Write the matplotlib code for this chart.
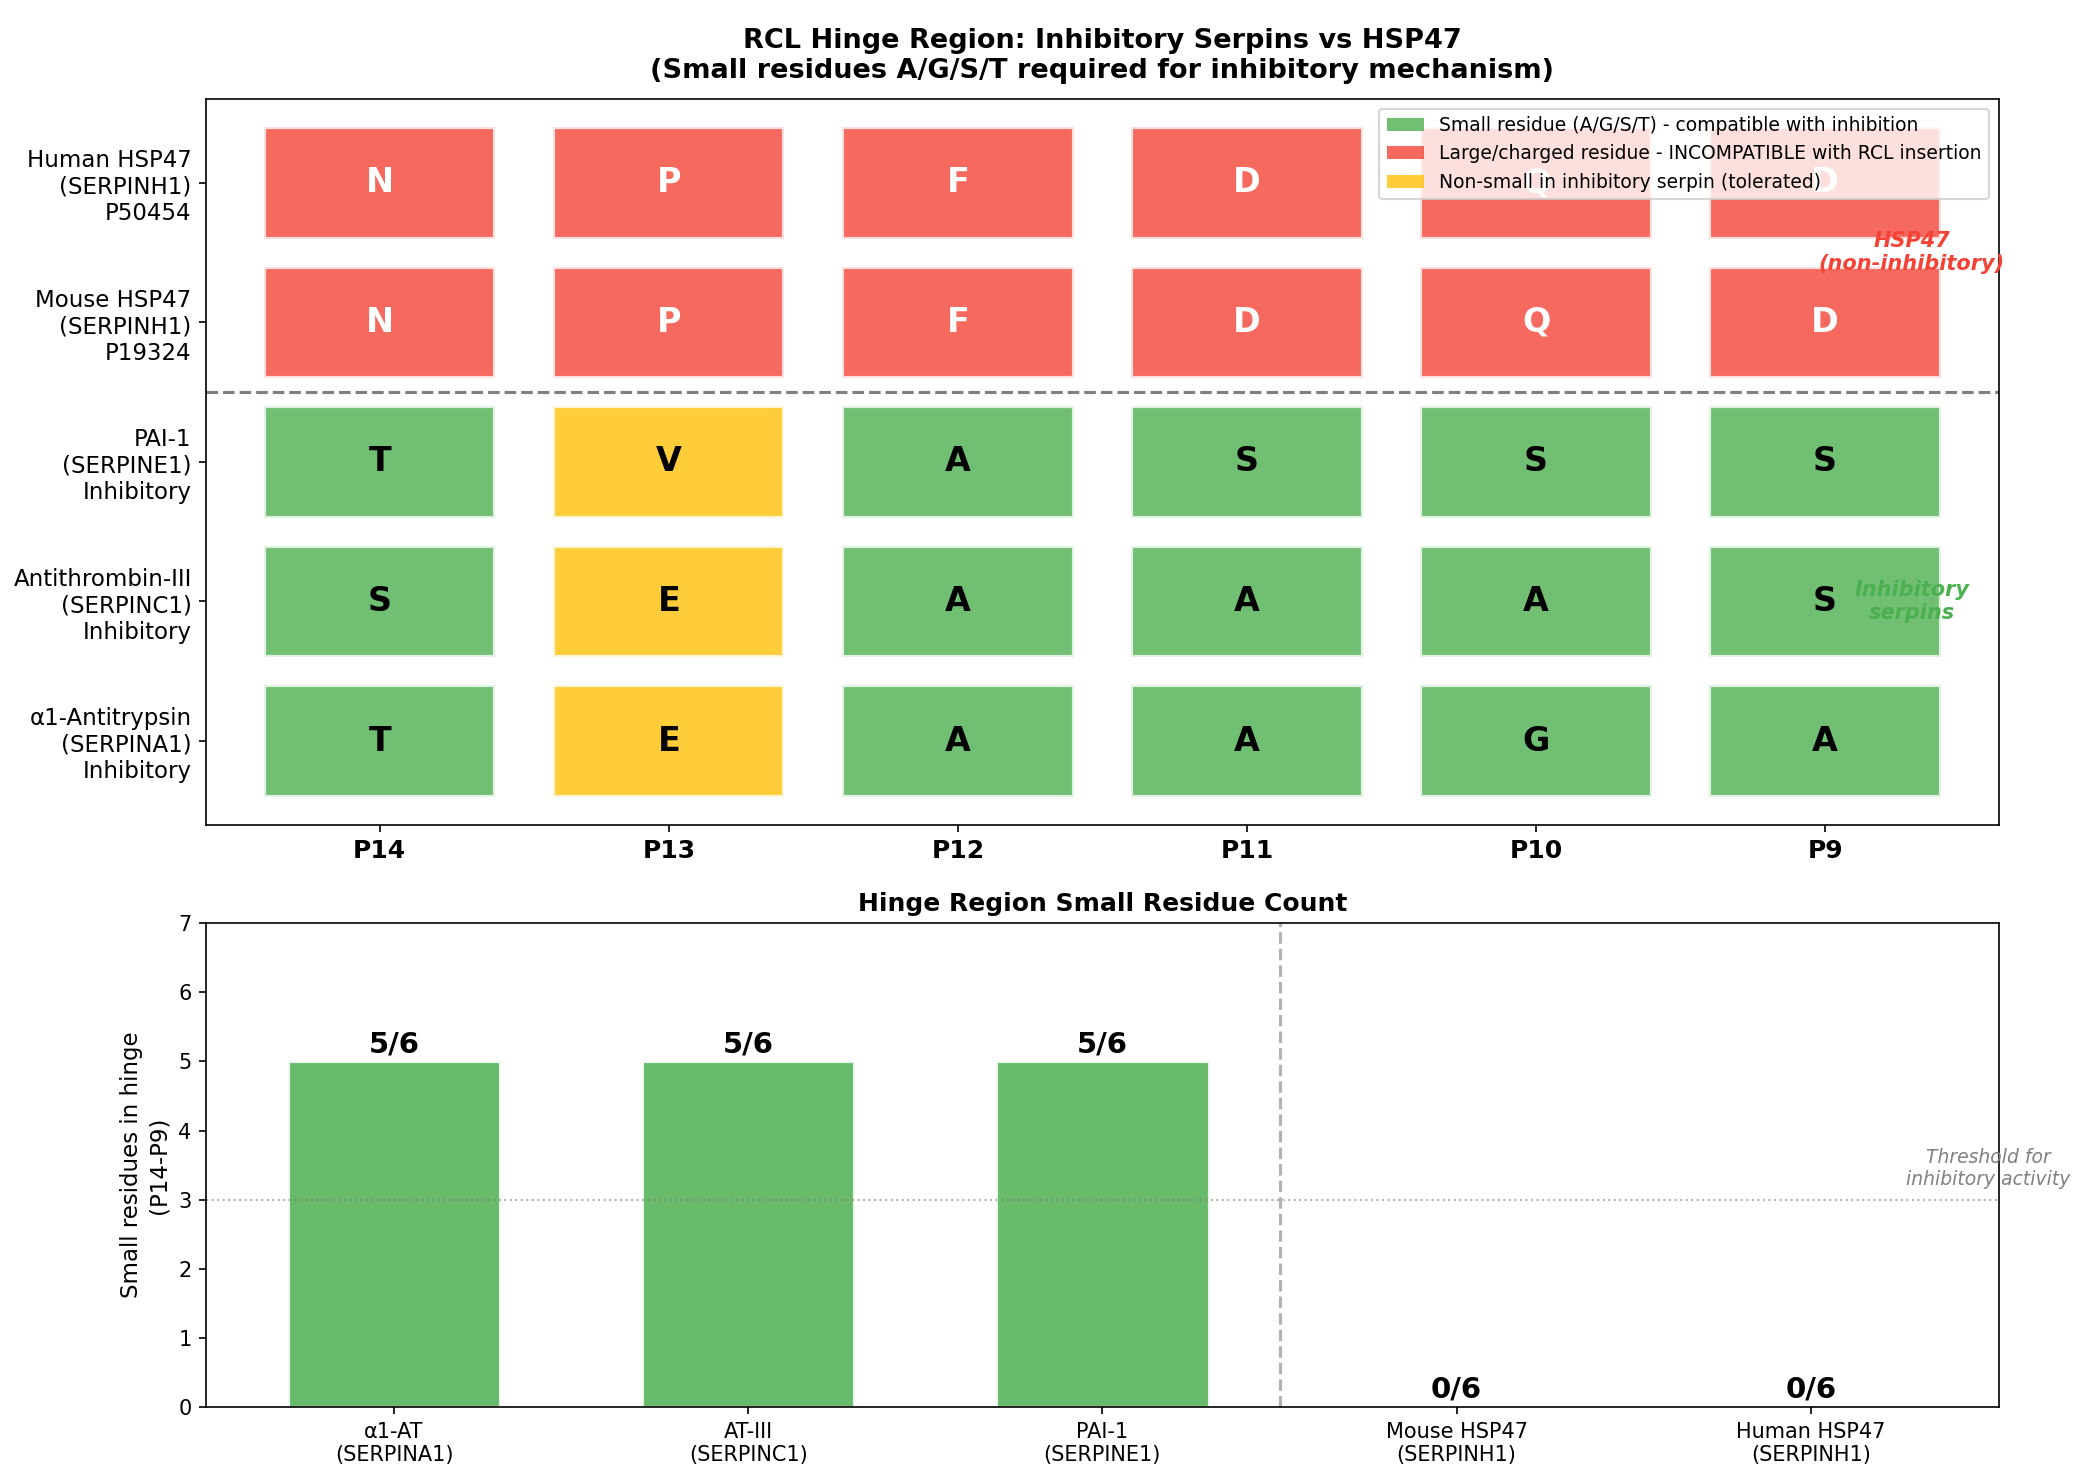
import matplotlib
matplotlib.use("Agg")
import matplotlib.pyplot as plt
from matplotlib.patches import Rectangle, Patch

# ---- data ----
positions = ["P14", "P13", "P12", "P11", "P10", "P9"]
row_labels = [
    "Human HSP47\n(SERPINH1)\nP50454",
    "Mouse HSP47\n(SERPINH1)\nP19324",
    "PAI-1\n(SERPINE1)\nInhibitory",
    "Antithrombin-III\n(SERPINC1)\nInhibitory",
    "\u03b11-Antitrypsin\n(SERPINA1)\nInhibitory",
]
residues = [
    ["N", "P", "F", "D", "Q", "D"],
    ["N", "P", "F", "D", "Q", "D"],
    ["T", "V", "A", "S", "S", "S"],
    ["S", "E", "A", "A", "A", "S"],
    ["T", "E", "A", "A", "G", "A"],
]
inhibitory = [False, False, True, True, True]

bar_names = ["\u03b11-AT\n(SERPINA1)", "AT-III\n(SERPINC1)", "PAI-1\n(SERPINE1)",
             "Mouse HSP47\n(SERPINH1)", "Human HSP47\n(SERPINH1)"]
small_counts = [5, 5, 5, 0, 0]
n_pos = 6
threshold = 3

GREEN = "#4CAF50"
RED = "#F44336"
YELLOW = "#FFC107"
small_set = set("AGST")

fig = plt.figure(figsize=(2084 / 150, 1481 / 150), dpi=150)
gs = fig.add_gridspec(2, 1, height_ratios=[1.5, 1], hspace=0.163,
                      left=0.099, right=0.959, top=0.933, bottom=0.05)
ax1 = fig.add_subplot(gs[0])
ax2 = fig.add_subplot(gs[1])

# ---- top: residue grid ----
for r, row in enumerate(residues):
    for c, aa in enumerate(row):
        if aa in small_set:
            col, tcol = GREEN, "black"
        elif inhibitory[r]:
            col, tcol = YELLOW, "black"
        else:
            col, tcol = RED, "white"
        ax1.add_patch(Rectangle((c - 0.4, r - 0.4), 0.8, 0.8, facecolor=col,
                                edgecolor="white", linewidth=2, alpha=0.8))
        ax1.text(c, r, aa, ha="center", va="center", fontsize=16,
                 fontweight="bold", color=tcol)

ax1.axhline(1.5, color="gray", linestyle="--", linewidth=1.5)
ax1.set_xlim(-0.6, n_pos - 0.4)
ax1.set_ylim(len(residues) - 0.4, -0.6)
ax1.set_xticks(range(n_pos))
ax1.set_xticklabels(positions, fontsize=12, fontweight="bold")
ax1.set_yticks(range(len(residues)))
ax1.set_yticklabels(row_labels, fontsize=11)

ax1.text(5.3, 0.5, "HSP47\n(non-inhibitory)", ha="center", va="center",
         fontsize=10, fontweight="bold", fontstyle="italic", color=RED)
ax1.text(5.3, 3.0, "Inhibitory\nserpins", ha="center", va="center",
         fontsize=10, fontweight="bold", fontstyle="italic", color=GREEN)

handles = [
    Patch(facecolor=GREEN, alpha=0.8, label="Small residue (A/G/S/T) - compatible with inhibition"),
    Patch(facecolor=RED, alpha=0.8, label="Large/charged residue - INCOMPATIBLE with RCL insertion"),
    Patch(facecolor=YELLOW, alpha=0.8, label="Non-small in inhibitory serpin (tolerated)"),
]
ax1.legend(handles=handles, loc="upper right", fontsize=9)
ax1.set_title("RCL Hinge Region: Inhibitory Serpins vs HSP47\n"
              "(Small residues A/G/S/T required for inhibitory mechanism)",
              fontsize=13, fontweight="bold", pad=10)

# ---- bottom: counts ----
xs = range(len(small_counts))
ax2.bar(xs, small_counts, width=0.6, color=GREEN, alpha=0.85,
        edgecolor="white", linewidth=1.5)
for x, v in zip(xs, small_counts):
    ax2.text(x, v + 0.05, f"{v}/{n_pos}", ha="center", va="bottom",
             fontsize=14, fontweight="bold")
ax2.axhline(threshold, color="gray", linestyle=":", linewidth=1, alpha=0.6)
ax2.axvline(2.5, color="gray", linestyle="--", linewidth=1.5, alpha=0.6)
ax2.text(4.5, threshold + 0.15, "Threshold for\ninhibitory activity", ha="center",
         va="bottom", fontsize=9, fontstyle="italic", color="gray")
ax2.set_xlim(-0.53, 4.53)
ax2.set_ylim(0, 7)
ax2.set_xticks(list(xs))
ax2.set_xticklabels(bar_names, fontsize=10)
ax2.set_ylabel("Small residues in hinge\n(P14-P9)", fontsize=11)
ax2.set_title("Hinge Region Small Residue Count", fontsize=12, fontweight="bold")

fig.savefig("out.png", dpi=150)
